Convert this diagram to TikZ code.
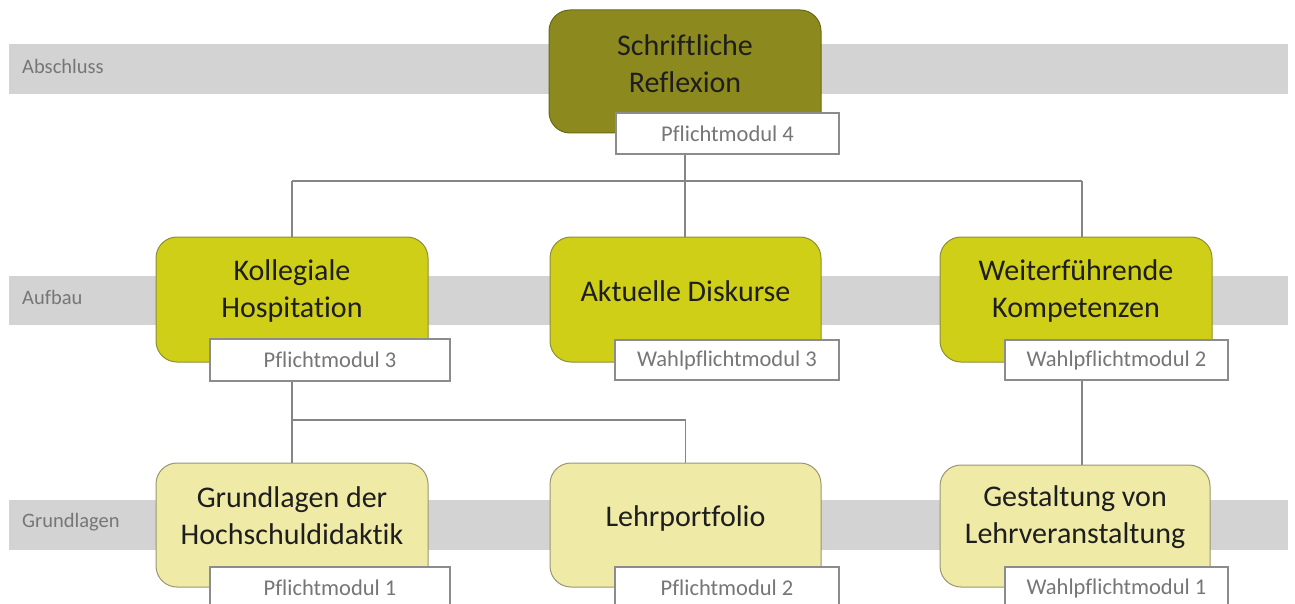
\documentclass[tikz,border=0pt]{standalone}
\usepackage{fontspec}
\setmainfont{Carlito}[Ligatures=NoCommon]
\pgfdeclarelayer{bandlayer}
\pgfdeclarelayer{linelayer}
\pgfsetlayers{bandlayer,linelayer,main}
\definecolor{bandgray}{HTML}{D3D3D3}
\definecolor{cTop}{HTML}{8C8A1E}
\definecolor{bTop}{HTML}{6A6818}
\definecolor{cMid}{HTML}{CFCF17}
\definecolor{bMid}{HTML}{8E8E3A}
\definecolor{cBot}{HTML}{EFEAA6}
\definecolor{bBot}{HTML}{9A9670}
\definecolor{txtc}{HTML}{1E1E1E}
\definecolor{graytxt}{HTML}{767676}
\definecolor{tagline}{HTML}{8C8C8C}
\definecolor{connc}{HTML}{858585}
\begin{document}
\begin{tikzpicture}[x=1pt,y=-1pt,
  band/.style={fill=bandgray, draw=none, minimum width=1279pt, minimum height=50pt, inner sep=0pt},
  bandtext/.style={anchor=west, text=graytxt, font=\fontsize{20.5}{24}\selectfont, inner sep=0pt},
  mod/.style={rounded corners=21pt, minimum width=272pt, minimum height=124pt, line width=1pt, inner sep=0pt},
  modtop/.style={mod, fill=cTop, draw=bTop},
  modmid/.style={mod, fill=cMid, draw=bMid},
  modbot/.style={mod, fill=cBot, draw=bBot},
  modtext/.style={align=center, text=txtc, font=\fontsize{30}{37}\selectfont, inner sep=0pt},
  tag/.style={fill=white, draw=tagline, line width=1.3pt, minimum height=41pt, inner sep=0pt, text=graytxt, font=\fontsize{22.5}{27}\selectfont},
  conn/.style={draw=connc, line width=1.5pt}]
\useasboundingbox (0,0) rectangle (1295,604);
\clip (0,0) rectangle (1295,604);

\begin{pgfonlayer}{bandlayer}
\node[band] (b1) at (648.5,69) {};
\node[bandtext] (b1t) at (22,66) {Abschluss};
\node[band, minimum height=49pt] (b2) at (648.5,300.5) {};
\node[bandtext] (b2t) at (22,297.5) {Aufbau};
\node[band] (b3) at (648.5,525) {};
\node[bandtext] (b3t) at (22,522) {Grundlagen};
\end{pgfonlayer}

% top
\node[modtop, minimum height=123pt] (rf) at (685,71.5) {};
\node[modtext] (rft) at (685,64) {Schriftliche\\Reflexion};
\node[tag, minimum width=223pt] (rfl) at (727.5,133.5) {Pflichtmodul 4};

% middle
\node[modmid, minimum height=125pt] (kh) at (292,299.5) {};
\node[modtext] (kht) at (292,291) {Kollegiale\\Hospitation};
\node[tag, minimum width=240pt, minimum height=42pt] (khl) at (330,360) {Pflichtmodul 3};

\node[modmid, minimum height=125pt, minimum width=271pt] (ad) at (685.5,299.5) {};
\node[modtext] (adt) at (685.5,291) {Aktuelle Diskurse};
\node[tag, minimum width=224pt, minimum height=40pt] (adl) at (727,360) {Wahlpflichtmodul 3};

\node[modmid, minimum height=125pt] (wk) at (1076,299.5) {};
\node[modtext] (wkt) at (1076,291) {Weiterführende\\Kompetenzen};
\node[tag, minimum width=223pt, minimum height=40pt] (wkl) at (1116.5,360) {Wahlpflichtmodul 2};

% bottom
\node[modbot] (gh) at (292,525) {};
\node[modtext] (ght) at (292,516) {Grundlagen der\\Hochschuldidaktik};
\node[tag, minimum width=240pt, minimum height=42pt] (ghl) at (330,588) {Pflichtmodul 1};

\node[modbot, minimum width=271pt] (lp) at (685.5,525) {};
\node[modtext] (lpt) at (685.5,518) {Lehrportfolio};
\node[tag, minimum width=224pt, minimum height=42pt] (lpl) at (727,588) {Pflichtmodul 2};

\node[modbot, minimum width=270pt, minimum height=122pt] (gl) at (1075,526) {};
\node[modtext] (glt) at (1075,517) {Gestaltung von\\Lehrveranstaltung};
\node[tag, minimum width=223pt, minimum height=42pt] (gll) at (1116.5,588) {Wahlpflichtmodul 1};

\begin{pgfonlayer}{linelayer}
\coordinate (jl) at (292,181);
\coordinate (jr) at (1082,181);
\coordinate (jb) at (292,420);
\draw[conn] (rf.center) -- (rf.center |- jl);
\draw[conn] (jl) -- (jr);
\draw[conn] (jl) -- (kh.center);
\draw[conn] (rf.center |- jl) -- (rf.center |- ad.center);
\draw[conn] (jr) -- (jr |- wk.center);
\draw[conn] (kh.center) -- (gh.center);
\draw[conn] (jb) -| (lp.center);
\draw[conn] (jr |- wk.center) -- (jr |- gl.center);
\end{pgfonlayer}
\end{tikzpicture}
\end{document}
